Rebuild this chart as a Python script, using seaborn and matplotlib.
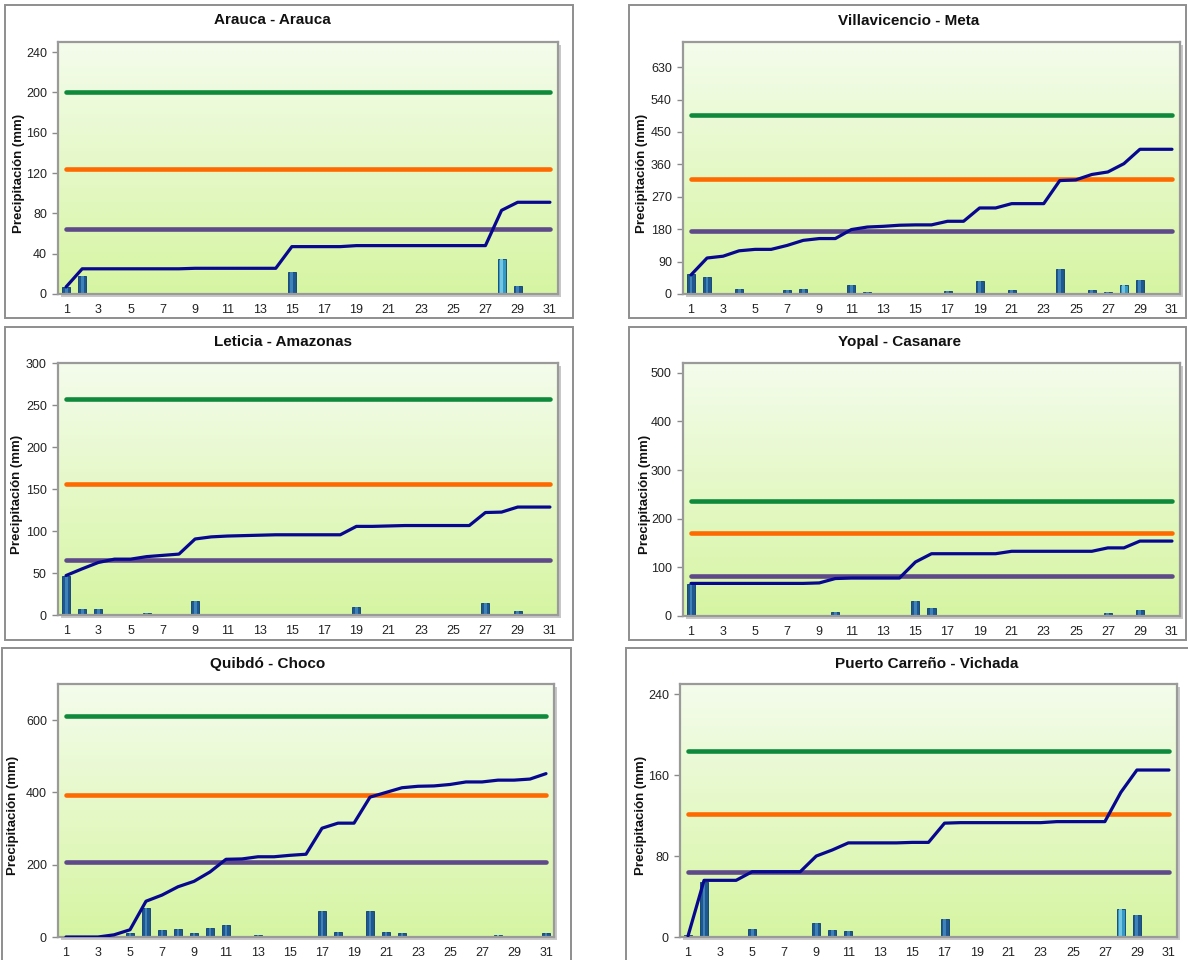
import numpy as np
import pandas as pd
import matplotlib
matplotlib.use("Agg")
import matplotlib.pyplot as plt
import seaborn as sns
from matplotlib.patches import Rectangle
from matplotlib.colors import LinearSegmentedColormap

# ---------------- data ----------------
days = list(range(1, 32))

titles = ["Arauca - Arauca", "Villavicencio - Meta", "Leticia - Amazonas",
          "Yopal - Casanare", "Quibdó - Choco", "Puerto Carreño - Vichada"]

arauca_daily = [7, 18, 0, 0, 0, 0, 0, 0, 0.5, 0, 0, 0, 0, 0, 22, 0, 0, 0, 1, 0,
                0, 0, 0, 0, 0, 0, 0, 35, 8, 0, 0]
arauca_cum = [7, 25, 25, 25, 25, 25, 25, 25, 25.5, 25.5, 25.5, 25.5, 25.5, 25.5, 47, 47,
              47, 47, 48, 48, 48, 48, 48, 48, 48, 48, 48, 83, 91, 91, 91]

villavicencio_daily = [55, 46, 2, 13, 2, 0, 10, 13, 2, 0, 24, 6, 0, 1, 0, 0, 7, 0, 37, 0,
                       11, 0, 0, 70, 0, 10, 5, 24, 39, 0, 0]
villavicencio_cum = [53, 100, 105, 120, 124, 124, 135, 149, 154, 154, 179, 186, 188, 191,
                     192, 192, 202, 202, 239, 239, 251, 251, 251, 315, 317, 332, 339, 362,
                     402, 402, 402]

leticia_daily = [47, 7, 7.5, 1, 0, 2.5, 0.5, 0.5, 17, 1, 0.3, 0.3, 0.3, 0.3, 0.3, 0.3, 0.3,
                 0.3, 10, 0.3, 0.3, 0.3, 0.3, 0.3, 0.3, 0.3, 14, 0, 5, 0, 0]
leticia_cum = [47, 55, 62.5, 66.5, 66.5, 69.5, 71, 72.5, 90.5, 93, 94, 94.5, 95, 95.5, 95.5,
               95.5, 95.5, 95.5, 105.5, 105.5, 106, 106.5, 106.5, 106.5, 106.5, 106.5, 122,
               122.5, 128.5, 128.5, 128.5]

yopal_daily = [66, 0, 0, 0, 0, 0, 0, 0, 1, 9, 0, 0, 0.5, 0, 31, 16, 0, 0, 0, 0, 2, 0, 0, 0,
               0, 0, 6, 0, 12, 0, 0]
yopal_cum = [67, 67, 67, 67, 67, 67, 67, 67, 68, 77, 78, 78, 78, 78, 111, 128, 128, 128, 128,
             128, 133, 133, 133, 133, 133, 133, 140, 140, 154, 154, 154]

quibdo_daily = [0, 0, 0, 0, 10, 80, 20, 21, 11, 25, 34, 0, 5, 0, 1, 1, 72, 14, 0, 71, 13, 11,
                2, 0, 3, 3, 0, 6, 0, 0, 11]
quibdo_cum = [0, 0, 0, 6, 20, 99, 116, 139, 154, 180, 215, 216, 222, 222, 226, 229, 301, 315,
              315, 387, 400, 413, 417, 418, 422, 429, 429, 434, 434, 437, 452]

carreno_daily = [2, 54, 0, 0, 8, 0, 0, 0, 14, 7, 6, 0, 0, 0, 0, 0, 18, 0, 0, 0, 0, 0, 0, 0,
                 0, 0, 0, 28, 22, 0, 0]
carreno_cum = [1, 56, 56, 56, 64.5, 64.5, 64.5, 64.5, 80, 86, 93, 93, 93, 93, 93.5, 93.5,
               112.5, 113, 113, 113, 113, 113, 113, 114, 114, 114, 114, 143, 165, 165, 165]

# thresholds: (purple, orange, green)
arauca_thr = [64, 124, 200]
villavicencio_thr = [174, 320, 498]
leticia_thr = [65, 155.5, 257]
yopal_thr = [82, 170, 236]
quibdo_thr = [207, 392, 611]
carreno_thr = [64.5, 122, 184]

light_days = [[28], [28], [], [], [28], [28]]

y_max = [250, 700, 300, 520, 700, 250]
y_ticks = [list(range(0, 241, 40)), list(range(0, 631, 90)), list(range(0, 301, 50)),
           list(range(0, 501, 100)), list(range(0, 601, 200)), list(range(0, 241, 80))]
x_labels = [str(d) for d in range(1, 32, 2)]

dailies = [arauca_daily, villavicencio_daily, leticia_daily, yopal_daily, quibdo_daily, carreno_daily]
cums = [arauca_cum, villavicencio_cum, leticia_cum, yopal_cum, quibdo_cum, carreno_cum]
thrs = [arauca_thr, villavicencio_thr, leticia_thr, yopal_thr, quibdo_thr, carreno_thr]

# ---------------- layout (pixels) ----------------
W, H = 1188, 960
axes_px = [(58, 42, 558, 294), (683, 42, 1180, 294),
           (58, 363, 558, 615), (683, 363, 1180, 616),
           (58, 684, 554, 937), (680, 684, 1177, 937)]
frames_px = [(5, 5, 573, 318), (629, 5, 1186, 318),
             (5, 327, 573, 640), (629, 327, 1186, 640),
             (2, 648, 571, 962), (626, 648, 1190, 962)]
title_px = [(272, 20), (909, 21), (283, 342), (900, 342), (268, 664), (927, 664)]
ylabel_x = [25, 648, 23, 651, 19, 647]

sns.set_theme(style="white")
plt.rcParams["font.family"] = ["Liberation Sans", "DejaVu Sans"]

fig = plt.figure(figsize=(W / 100, H / 100), dpi=100)
fig.patch.set_facecolor("white")

bg_cmap = LinearSegmentedColormap.from_list("bg", ["#D6F5A2", "#F4FCEC"])
grad = np.linspace(0, 1, 256).reshape(-1, 1)

C_GREEN, C_ORANGE, C_PURPLE, C_NAVY = "#0F8A3C", "#FF6A00", "#5E4A88", "#07078F"
GRAY = "#9A9A9A"

for i in range(6):
    l, t, r, b = axes_px[i]
    # frame
    fl, ft, fr, fb = frames_px[i]
    fig.patches.append(Rectangle((fl / W, 1 - fb / H), (fr - fl) / W, (fb - ft) / H,
                                 transform=fig.transFigure, facecolor="none",
                                 edgecolor="#8E8E8E", linewidth=1.4, zorder=-2))
    # shadow of plot area
    fig.patches.append(Rectangle(((l + 3) / W, 1 - (b + 3) / H), (r - l) / W, (b - t) / H,
                                 transform=fig.transFigure, facecolor="#C8C8C8",
                                 edgecolor="none", zorder=-1))
    ax = fig.add_axes([l / W, 1 - b / H, (r - l) / W, (b - t) / H])
    ax.imshow(grad, extent=[0, 1, 0, 1], transform=ax.transAxes, aspect="auto",
              cmap=bg_cmap, origin="lower", zorder=0)

    df = pd.DataFrame({"day": days, "mm": dailies[i],
                       "tone": ["light" if d in light_days[i] else "dark" for d in days]})
    sns.barplot(data=df, x="day", y="mm", hue="tone",
                palette={"dark": "#0C58A0", "light": "#1CA3DC"},
                native_scale=True, width=0.5, dodge=False, legend=False,
                errorbar=None, edgecolor="#093C74", linewidth=0.6, ax=ax, zorder=2)
    sns.barplot(data=df, x="day", y="mm", hue="tone",
                palette={"dark": "#2A84CE", "light": "#5FD0F5"},
                native_scale=True, width=0.18, dodge=False, legend=False,
                errorbar=None, linewidth=0, ax=ax, zorder=2.5)

    purple, orange, green = thrs[i]
    for val, col in [(purple, C_PURPLE), (orange, C_ORANGE), (green, C_GREEN)]:
        sns.lineplot(x=days, y=[val] * len(days), color=col, linewidth=3.3,
                     solid_capstyle="round", ax=ax, zorder=3)
    sns.lineplot(x=days, y=cums[i], color=C_NAVY, linewidth=2.3, ax=ax, zorder=4)

    ax.set_xlim(0.5, 31.5)
    ax.set_ylim(0, y_max[i])
    ax.set_yticks(y_ticks[i])
    ax.set_yticklabels([str(v) for v in y_ticks[i]])
    ax.set_xticks(list(range(1, 32, 2)))
    ax.set_xticklabels(x_labels)
    ax.set_xticks(np.arange(0.5, 32, 1.0), minor=True)
    ax.tick_params(axis="x", which="major", length=0, pad=7, labelsize=9, labelcolor="#222222")
    ax.tick_params(axis="x", which="minor", length=4, width=1, color="#8A8A8A", direction="out")
    ax.tick_params(axis="y", which="major", length=4, width=1, color="#8A8A8A",
                   direction="out", pad=4, labelsize=9, labelcolor="#222222")
    ax.tick_params(left=True, bottom=True)
    for s in ax.spines.values():
        s.set_color(GRAY)
        s.set_linewidth(1.6)
    ax.set_xlabel("")
    ax.set_ylabel("Precipitación (mm)", fontsize=9.5, fontweight="bold", color="#111111")
    ax.yaxis.set_label_coords((ylabel_x[i] - l) / (r - l), 0.48)
    ax.grid(False)

    tx, ty = title_px[i]
    fig.text(tx / W, 1 - ty / H, titles[i], ha="center", va="center",
             fontsize=11, fontweight="bold", color="#111111")

fig.savefig("out.png", dpi=100)
